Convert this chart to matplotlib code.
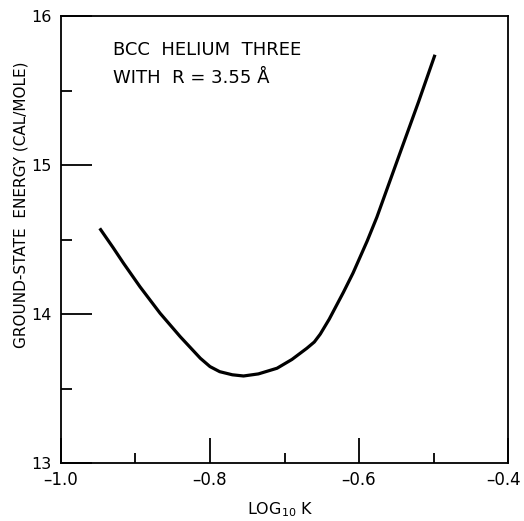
import numpy as np
import matplotlib
matplotlib.use("Agg")
import matplotlib.pyplot as plt
from matplotlib.ticker import MultipleLocator
import matplotlib.transforms as mtransforms

# ground-state energy vs log10 K
log_k = [-0.948, -0.930, -0.916, -0.894, -0.867, -0.840, -0.813, -0.800,
         -0.787, -0.770, -0.755, -0.735, -0.710, -0.690, -0.670, -0.660,
         -0.652, -0.640, -0.621, -0.608, -0.589, -0.576, -0.545, -0.520,
         -0.498]
energy = [14.575, 14.445, 14.340, 14.183, 14.005, 13.848, 13.703, 13.647,
          13.613, 13.592, 13.584, 13.598, 13.636, 13.695, 13.770, 13.812,
          13.865, 13.965, 14.145, 14.275, 14.490, 14.650, 15.080, 15.425,
          15.740]

x_ticks = [-1.0, -0.8, -0.6, -0.4]
x_labels = ["\u20131.0", "\u20130.8", "\u20130.6", "\u20130.4"]
y_ticks = [13, 14, 15, 16]
y_labels = ["13", "14", "15", "16"]

plt.rcParams['font.family'] = ['DejaVu Sans']

fig = plt.figure(figsize=(5.24, 5.21), dpi=100)
ax = fig.add_axes([61/524, 58/521, 447/524, 447/521])

ax.plot(log_k, energy, color="black", lw=2.3, solid_capstyle="butt",
        solid_joinstyle="round")

ax.set_xlim(-1.0, -0.4)
ax.set_ylim(13, 16)
ax.set_xticks(x_ticks)
ax.set_xticklabels(x_labels)
ax.set_yticks(y_ticks)
ax.set_yticklabels(y_labels)
ax.xaxis.set_minor_locator(MultipleLocator(0.1))
ax.yaxis.set_minor_locator(MultipleLocator(0.5))

ax.tick_params(axis="x", which="major", direction="in", length=18, width=1.3,
               labelsize=12, pad=6)
ax.tick_params(axis="x", which="minor", direction="in", length=7.5, width=1.3)
ax.tick_params(axis="y", which="major", direction="in", length=22, width=1.3,
               labelsize=11.5, pad=7)
ax.tick_params(axis="y", which="minor", direction="in", length=8, width=1.3)

# keep the last x label inside the figure
last = ax.get_xticklabels()[-1]
last.set_transform(last.get_transform() +
                   mtransforms.ScaledTranslation(-4/100, 0, fig.dpi_scale_trans))

for s in ax.spines.values():
    s.set_linewidth(1.3)

ax.set_xlabel(r"LOG$_{\mathregular{10}}$ K", fontsize=11.5, va="center")
ax.xaxis.set_label_coords(0.49, -0.105)
ax.set_ylabel("GROUND-STATE  ENERGY (CAL/MOLE)", fontsize=11, va="center")
ax.yaxis.set_label_coords(-0.09, 0.577)

ax.text(0.117, 0.913, "BCC  HELIUM  THREE", transform=ax.transAxes,
        fontsize=13, va="baseline")
ax.text(0.117, 0.850, "WITH  R = 3.55 \u00c5", transform=ax.transAxes,
        fontsize=13, va="baseline")

fig.savefig("out.png", dpi=100)
